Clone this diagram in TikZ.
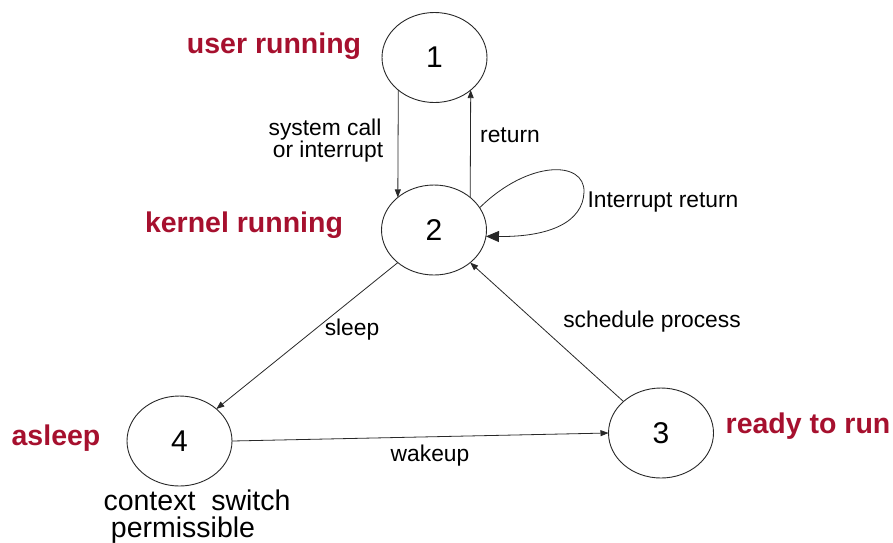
\documentclass[tikz,border=0pt]{standalone}
\usepackage{fontspec}
\setmainfont{Liberation Sans}
\usetikzlibrary{shapes.geometric,arrows.meta}
\definecolor{statered}{RGB}{166,16,46}
\definecolor{inkline}{RGB}{40,40,40}
\begin{document}
\begin{tikzpicture}[x=1pt,y=-1pt,
  state/.style={ellipse,draw=inkline,line width=0.9pt,minimum width=105pt,
    minimum height=90pt,inner sep=0pt,outer sep=0pt,
    font=\fontsize{30}{30}\selectfont},
  statename/.style={text=statered,font=\bfseries\fontsize{28.5}{30}\selectfont,
    anchor=base,inner sep=0pt},
  lbl/.style={font=\fontsize{22.8}{25}\selectfont,anchor=base,inner sep=0pt},
  note/.style={font=\fontsize{28.5}{30}\selectfont,anchor=base,inner sep=0pt},
  link/.style={draw=inkline,line width=0.8pt,-{Triangle[length=8pt,width=6pt]}},
  looplink/.style={draw=inkline,line width=0.8pt,-{Triangle[length=13pt,width=11pt]}}]
\useasboundingbox (0,0) rectangle (893,542);

% process states
\node[state] (n1) at (434.5,57.5) {1};
\node[state] (n2) at (434,230) {2};
\node[state] (n3) at (661,433) {3};
\node[state] (n4) at (179.5,441) {4};

% state names
\node[statename] (lu) at (274,53) {user running};
\node[statename] (lk) at (244,232) {kernel running};
\node[statename] (la) at (56,445) {asleep};
\node[statename] (lr) at (808,433) {ready to run};

% transitions
\draw[link] (n1.222) -- (n2.138);
\draw[link] (n2.42) -- (n1.318);
\draw[link] (n2.222) -- (n4.41);
\draw[link] (n3.140) -- (n2.318);
\draw[link] (n4.east) -- (n3.west);
\coordinate (loopfar) at (584,192);
\draw[looplink] (n2.26) .. controls (528,160) and (585,160) .. (loopfar)
  .. controls (583,222) and (550,237) .. (n2.353);

% transition labels
\node[lbl] (tsys1) at (325,135) {system call};
\node[lbl] (tsys2) at (328,157) {or interrupt};
\node[lbl] (tret) at (510,142) {return};
\node[lbl] (tint) at (663,207) {Interrupt return};
\node[lbl] (tslp) at (352,335) {sleep};
\node[lbl] (tsch) at (652,327) {schedule process};
\node[lbl] (twak) at (430,461) {wakeup};

% note under state 4
\node[note] (ctx1) at (197,510) {context\ \ switch};
\node[note] (ctx2) at (183,537) {permissible};
\end{tikzpicture}
\end{document}
